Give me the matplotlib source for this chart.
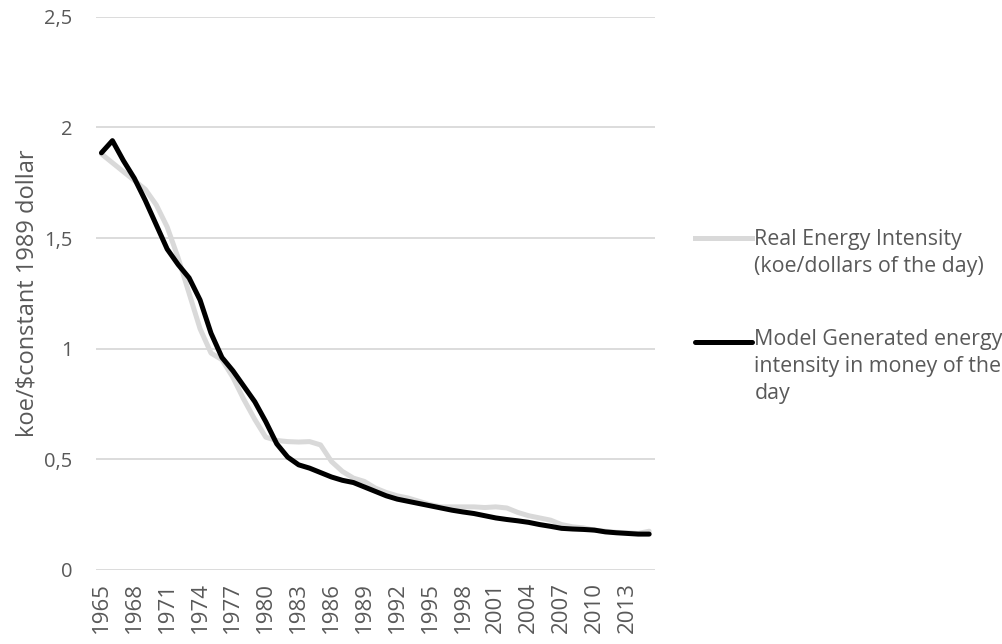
import matplotlib
matplotlib.use("Agg")
import matplotlib.pyplot as plt
from matplotlib.lines import Line2D

plt.rcParams["font.family"] = ["Open Sans", "DejaVu Sans"]

years = list(range(1965, 2016))

real_intensity = [
    1.88, 1.84, 1.80, 1.76, 1.72, 1.65, 1.55, 1.41, 1.25, 1.09,
    0.98, 0.95, 0.87, 0.77, 0.68, 0.60, 0.585, 0.58, 0.578, 0.58,
    0.565, 0.49, 0.445, 0.415, 0.40, 0.37, 0.35, 0.335, 0.325, 0.31,
    0.295, 0.285, 0.285, 0.285, 0.285, 0.282, 0.285, 0.28, 0.26, 0.245,
    0.235, 0.225, 0.205, 0.195, 0.19, 0.18, 0.175, 0.17, 0.168, 0.165,
    0.175,
]

model_intensity = [
    1.885, 1.94, 1.85, 1.77, 1.67, 1.56, 1.45, 1.38, 1.32, 1.22,
    1.07, 0.96, 0.90, 0.83, 0.76, 0.67, 0.57, 0.51, 0.475, 0.46,
    0.44, 0.42, 0.405, 0.395, 0.375, 0.355, 0.335, 0.32, 0.31, 0.30,
    0.29, 0.28, 0.27, 0.262, 0.255, 0.245, 0.235, 0.228, 0.222, 0.215,
    0.205, 0.197, 0.188, 0.185, 0.183, 0.18, 0.172, 0.168, 0.165, 0.162,
    0.162,
]

y_ticks = [0, 0.5, 1, 1.5, 2, 2.5]
y_tick_labels = ["0", "0,5", "1", "1,5", "2", "2,5"]
x_ticks = list(range(1965, 2014, 3))

label_real = "Real Energy Intensity\n(koe/dollars of the day)"
label_model = "Model Generated energy\nintensity in money of the\nday"

GREY = "#d9d9d9"
TXT = "#595959"
LW = 3.6

fig = plt.figure(figsize=(10.03, 6.44), dpi=100)
ax = fig.add_axes([0.0957, 0.115, 0.557, 0.859])

ax.plot(years, real_intensity, color=GREY, linewidth=LW, solid_capstyle="round",
        solid_joinstyle="round", zorder=3)
ax.plot(years, model_intensity, color="black", linewidth=LW, solid_capstyle="round",
        solid_joinstyle="round", zorder=4)

ax.set_xlim(1964.5, 2015.5)
ax.set_ylim(0, 2.5)
ax.set_yticks(y_ticks)
ax.set_yticklabels(y_tick_labels)
ax.set_xticks(x_ticks)
ax.set_xticklabels([str(y) for y in x_ticks], rotation=90)
ax.tick_params(axis="y", length=0, labelsize=14.5, colors=TXT, pad=17)
ax.tick_params(axis="x", length=0, labelsize=16, colors=TXT, pad=9)
ax.grid(axis="y", color=GREY, linewidth=1.3, zorder=0)
for s in ["top", "right", "left", "bottom"]:
    ax.spines[s].set_visible(False)
ax.set_ylabel("koe/\\$constant 1989 dollar", fontsize=17, color=TXT)
ax.yaxis.set_label_coords(-0.101, 0.5)

# legend drawn beside the plot, handle aligned with first text line
fig.add_artist(Line2D([0.693, 0.750], [1 - 238 / 644] * 2, color=GREY, linewidth=LW,
                      transform=fig.transFigure))
fig.text(0.752, 1 - 229 / 644, label_real, fontsize=15.4, color=TXT, va="top",
         ha="left", linespacing=1.38, transform=fig.transFigure)
fig.add_artist(Line2D([0.693, 0.750], [1 - 342 / 644] * 2, color="black", linewidth=LW,
                      solid_capstyle="round", transform=fig.transFigure))
fig.text(0.752, 1 - 329 / 644, label_model, fontsize=15.4, color=TXT, va="top",
         ha="left", linespacing=1.38, transform=fig.transFigure)

fig.savefig("out.png", dpi=100)
